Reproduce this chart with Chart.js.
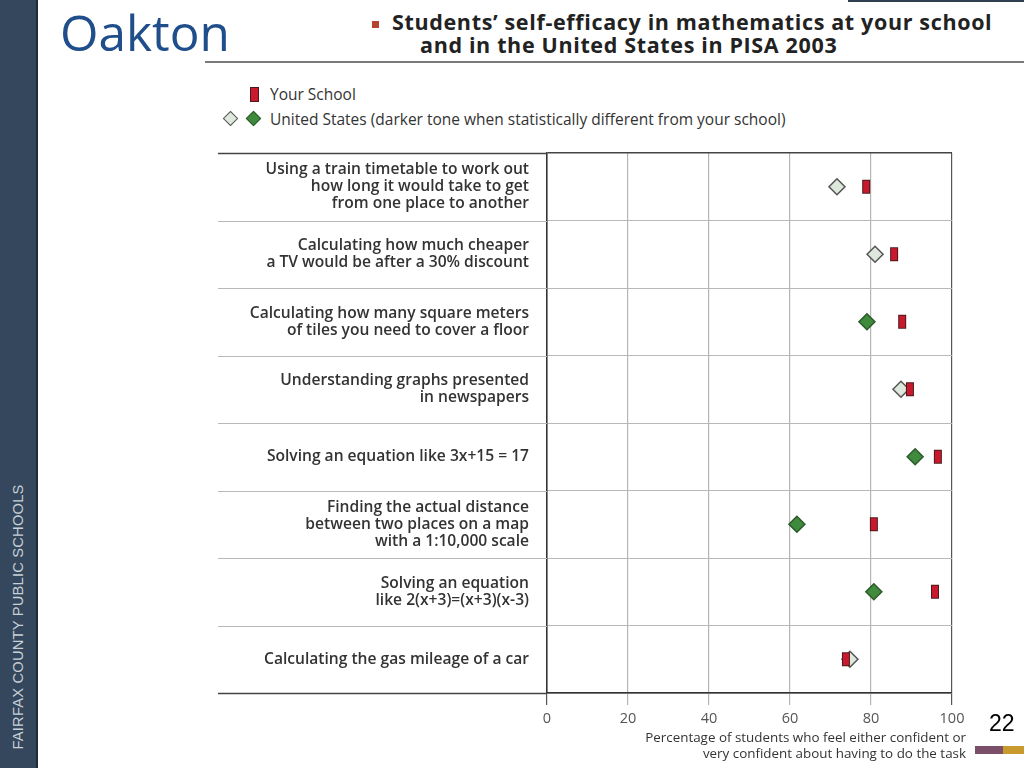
<!DOCTYPE html>
<html>
<head>
<meta charset="utf-8">
<script src="https://cdn.jsdelivr.net/npm/chart.js@4.4.1/dist/chart.umd.min.js"></script>
<style>
  html, body { margin:0; padding:0; background:#ffffff; }
  body { width:1024px; height:768px; position:relative; overflow:hidden; font-family:"Open Sans", "Lato", sans-serif; }
  #sidebar { position:absolute; left:0; top:0; width:36px; height:768px; background:#34475c; border-right:2px solid #1e2b38; }
  #sideText { position:absolute; left:18px; top:617px; transform:translate(-50%,-50%) rotate(-90deg); white-space:nowrap;
              font-family:"Liberation Sans", Arial, sans-serif; font-size:14.7px; color:#c8d0d8; letter-spacing:0.2px; }
  #topBar { position:absolute; left:848px; top:0; width:176px; height:2px; background:#2f3e4e; }
  #oakton { position:absolute; left:60px; top:1px; font-family:"Open Sans", sans-serif; font-size:49.5px; color:#1f4e8a; line-height:62px; }
  #titleBullet { position:absolute; left:372px; top:21px; width:7px; height:7px; background:#b5432f; }
  #title { position:absolute; left:392px; top:10px; font-family:"Open Sans", sans-serif; font-weight:bold; font-size:21.5px; letter-spacing:0.65px; line-height:23px; color:#222; }
  #title span { display:block; }
  #title span + span { padding-left:28px; }
  #rule { position:absolute; left:205px; top:61px; width:819px; height:2px; background:#7a7a7a; }
  .legend { position:absolute; left:270px; font-size:15.5px; color:#333; line-height:18px; white-space:nowrap; }
  #legSchoolMark { position:absolute; left:250px; top:87px; width:7px; height:13px; background:#c8192e; border:1px solid #4a1a1a; }
  .diamond { position:absolute; width:9px; height:9px; transform:rotate(45deg); border:1.5px solid #555; }
  #chartBox { position:absolute; left:205px; top:140px; width:819px; height:628px; }
  #xTitle { position:absolute; right:58px; top:729px; text-align:right; font-size:13.4px; line-height:16px; color:#333; white-space:nowrap; }
  #pageNum { position:absolute; left:989px; top:710px; font-family:"Liberation Sans", Arial, sans-serif; font-size:23px; color:#000; }
  #barA { position:absolute; left:975px; top:746px; width:28px; height:8px; background:#7b4f6a; }
  #barB { position:absolute; left:1003px; top:746px; width:21px; height:8px; background:#c99a2e; }
</style>
</head>
<body>

<div id="sidebar"><div id="sideText">FAIRFAX COUNTY PUBLIC SCHOOLS</div></div>
<div id="topBar"></div>
<div id="oakton">Oakton</div>
<div id="titleBullet"></div>
<div id="title"><span>Students’ self-efficacy in mathematics at your school</span><span>and in the United States in PISA 2003</span></div>
<div id="rule"></div>

<div id="legSchoolMark"></div>
<div class="legend" style="top:85px;">Your School</div>
<div class="diamond" style="left:225px; top:113px; background:#dfe8dc;"></div>
<div class="diamond" style="left:248px; top:113px; background:#3f8a3c; border-color:#2c5a2a;"></div>
<div class="legend" style="top:110px;">United States (darker tone when statistically different from your school)</div>

<div id="chartBox"><canvas id="grafico" width="819" height="628"></canvas></div>

<div id="xTitle">Percentage of students who feel either confident or<br>very confident about having to do the task</div>
<div id="pageNum">22</div>
<div id="barA"></div>
<div id="barB"></div>

<script>

// =====================================
// DADOS
// =====================================

const tarefas = [
    ["Using a train timetable to work out", "how long it would take to get", "from one place to another"],
    ["Calculating how much cheaper", "a TV would be after a 30% discount"],
    ["Calculating how many square meters", "of tiles you need to cover a floor"],
    ["Understanding graphs presented", "in newspapers"],
    ["Solving an equation like 3x+15 = 17"],
    ["Finding the actual distance", "between two places on a map", "with a 1:10,000 scale"],
    ["Solving an equation", "like 2(x+3)=(x+3)(x-3)"],
    ["Calculating the gas mileage of a car"]
];

const suaEscola = [78.8, 85.7, 87.7, 89.6, 96.5, 80.7, 95.8, 73.8];

const estadosUnidos = [71.6, 81.0, 79.0, 87.4, 90.9, 61.7, 80.7, 74.8];

// true = diferença estatística (tom mais escuro)
const diferente = [false, false, true, false, true, true, true, false];

const ticksX = [0, 20, 40, 60, 80, 100];


// =====================================
// MARCADOR ESCOLA (retangulo)
// =====================================

const marcaEscola = document.createElement("canvas");
marcaEscola.width = 10;
marcaEscola.height = 16;
(function(){
    const c = marcaEscola.getContext("2d");
    c.fillStyle = "#c8192e";
    c.fillRect(1, 1, 8, 14);
    c.strokeStyle = "#4a1a1a";
    c.lineWidth = 1;
    c.strokeRect(1.5, 1.5, 7, 13);
})();


// =====================================
// LINHAS DA TABELA (coluna dos rotulos)
// =====================================

const colunaRotulos = {

    id: "colunaRotulos",

    beforeDatasetsDraw(chart){

        const ctx = chart.ctx;
        const y = chart.scales.y;
        const area = chart.chartArea;

        ctx.save();

        for(let i = 0; i <= tarefas.length; i++){

            const py = Math.round(y.getPixelForValue(i - 0.5)) + 0.5;
            const borda = (i === 0 || i === tarefas.length);

            ctx.strokeStyle = borda ? "#444" : "#b8b8b8";
            ctx.lineWidth = borda ? 1.5 : 1;

            ctx.beginPath();
            ctx.moveTo(13, py);
            ctx.lineTo(area.left, py);
            ctx.stroke();

        }

        ctx.restore();

    }

};


// =====================================
// GRAFICO
// =====================================

const grafico = new Chart(document.getElementById("grafico"), {

    type: "scatter",

    data: {

        labels: tarefas,

        datasets: [

            {
                label: "Your School",
                data: suaEscola.map((v, i) => ({ x: v, y: i })),
                pointStyle: marcaEscola,
                order: 0
            },

            {
                label: "United States",
                data: estadosUnidos.map((v, i) => ({ x: v, y: i })),
                pointStyle: "rectRot",
                pointRadius: 8,
                pointHoverRadius: 8,
                pointBorderWidth: 1.5,
                pointBackgroundColor: diferente.map(d => d ? "#3f8a3c" : "#dfe8dc"),
                pointBorderColor: diferente.map(d => d ? "#2c5a2a" : "#555"),
                order: 1
            }

        ]

    },

    plugins: [colunaRotulos],

    options: {

        responsive: false,
        animation: false,

        layout: {
            padding: { top: 13, right: 72, bottom: 0, left: 0 }
        },

        plugins: {
            legend: { display: false },
            tooltip: { enabled: false }
        },

        scales: {

            x: {

                type: "linear",
                min: 0,
                max: 100,

                afterBuildTicks: s => { s.ticks = ticksX.map(v => ({ value: v })); },

                afterFit: s => { s.height = 75; s.paddingLeft = 0; s.paddingRight = 0; },

                grid: {
                    color: c => (c.tick && (c.tick.value === 0 || c.tick.value === 100)) ? "#555" : "#b5b5b5",
                    lineWidth: 1.2,
                    tickLength: 12
                },

                border: { color: "#333", width: 1.5 },

                ticks: {
                    color: "#555",
                    padding: 5,
                    font: { family: "Open Sans", size: 14.5 }
                }

            },

            y: {

                type: "category",
                offset: true,

                afterFit: s => { s.width = 342; s.paddingTop = 0; s.paddingBottom = 0; },

                grid: {
                    offset: true,
                    drawTicks: false,
                    color: c => c.index === 0 ? "#444" : "#b8b8b8",
                    lineWidth: c => c.index === 0 ? 1.5 : 1
                },

                border: { color: "#333", width: 1.5 },

                ticks: {
                    color: "#333",
                    padding: 18,
                    font: { family: "Open Sans", size: 15.6, weight: "600", lineHeight: 1.1 }
                }

            }

        }

    }

});

</script>
</body>
</html>
